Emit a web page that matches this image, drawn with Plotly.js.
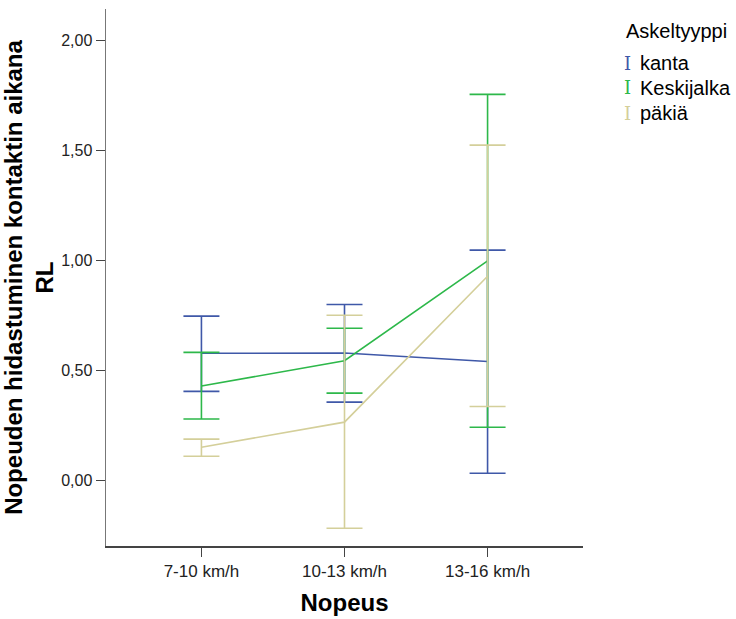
<!DOCTYPE html>
<html>
<head>
<meta charset="utf-8">
<script src="https://cdn.plot.ly/plotly-3.0.1.min.js"></script>
<style>html,body{margin:0;padding:0;background:#fff;}#chart{width:736px;height:619px;}</style>
</head>
<body>
<div id="chart"></div>
<script>
const categories = ["7-10 km/h", "10-13 km/h", "13-16 km/h"];
const seriesNames = ["kanta", "Keskijalka", "päkiä"];
const kantaMean = [0.578, 0.579, 0.541];
const kantaUpper = [0.747, 0.800, 1.047];
const kantaLower = [0.405, 0.356, 0.033];
const keskiMean = [0.429, 0.544, 0.998];
const keskiUpper = [0.582, 0.692, 1.755];
const keskiLower = [0.279, 0.397, 0.242];
const pakiaMean = [0.151, 0.265, 0.928];
const pakiaUpper = [0.188, 0.751, 1.524];
const pakiaLower = [0.110, -0.217, 0.336];
const colors = ["#3f58a8", "#2db84a", "#d4cf9a"];

const FONT = "Arial, 'Liberation Sans', sans-serif";

function mk(name, mean, up, lo, color) {
  return {
    type: "scatter", mode: "lines", name: name,
    x: categories, y: mean,
    line: {color: color, width: 1.6},
    error_y: {
      type: "data", symmetric: false,
      array: up.map((v, i) => v - mean[i]),
      arrayminus: mean.map((v, i) => v - lo[i]),
      color: color, thickness: 1.6, width: 18, visible: true
    },
    showlegend: false, hoverinfo: "x+y"
  };
}

const data = [
  mk(seriesNames[0], kantaMean, kantaUpper, kantaLower, colors[0]),
  mk(seriesNames[1], keskiMean, keskiUpper, keskiLower, colors[1]),
  mk(seriesNames[2], pakiaMean, pakiaUpper, pakiaLower, colors[2])
];

const legendY = [0.899, 0.853, 0.806];
const annotations = [{
  xref: "paper", yref: "paper", x: 1.087, y: 0.959, xanchor: "left", yanchor: "middle",
  text: "Askeltyyppi", showarrow: false, font: {family: FONT, size: 20, color: "#000"}
}];
seriesNames.forEach((n, i) => {
  annotations.push({
    xref: "paper", yref: "paper", x: 1.093, y: legendY[i], xanchor: "center", yanchor: "middle",
    text: "I", showarrow: false, font: {family: "'DejaVu Serif', 'Liberation Serif', serif", size: 18, color: colors[i]}
  });
  annotations.push({
    xref: "paper", yref: "paper", x: 1.116, y: legendY[i], xanchor: "left", yanchor: "middle",
    text: n, showarrow: false, font: {family: FONT, size: 20, color: "#000"}
  });
});

const layout = {
  width: 736, height: 619,
  margin: {l: 106, r: 153, t: 9, b: 73},
  paper_bgcolor: "#fff", plot_bgcolor: "#fff",
  separators: ", ",
  showlegend: false,
  font: {family: FONT, color: "#222"},
  xaxis: {
    type: "category", range: [-0.667, 2.667],
    showgrid: false, zeroline: false,
    showline: true, linecolor: "#444", linewidth: 1.5,
    ticks: "outside", ticklen: 9, tickcolor: "#444", tickwidth: 1.2,
    tickfont: {family: FONT, size: 17, color: "#222"},
    title: {text: "<b>Nopeus</b>", font: {family: FONT, size: 24, color: "#000"}, standoff: 14}
  },
  yaxis: {
    range: [-0.298, 2.143], dtick: 0.5, tick0: 0, tickformat: ".2f",
    showgrid: false, zeroline: false,
    showline: true, linecolor: "#777", linewidth: 1.5,
    ticks: "outside", ticklen: 9, tickcolor: "#444", tickwidth: 1.2,
    tickfont: {family: FONT, size: 16, color: "#222"},
    title: {text: "<b>Nopeuden hidastuminen kontaktin aikana<br>RL</b>", font: {family: FONT, size: 24, color: "#000"}, standoff: 5}
  },
  annotations: annotations
};

Plotly.newPlot("chart", data, layout, {displayModeBar: false, staticPlot: true});
</script>
</body>
</html>
